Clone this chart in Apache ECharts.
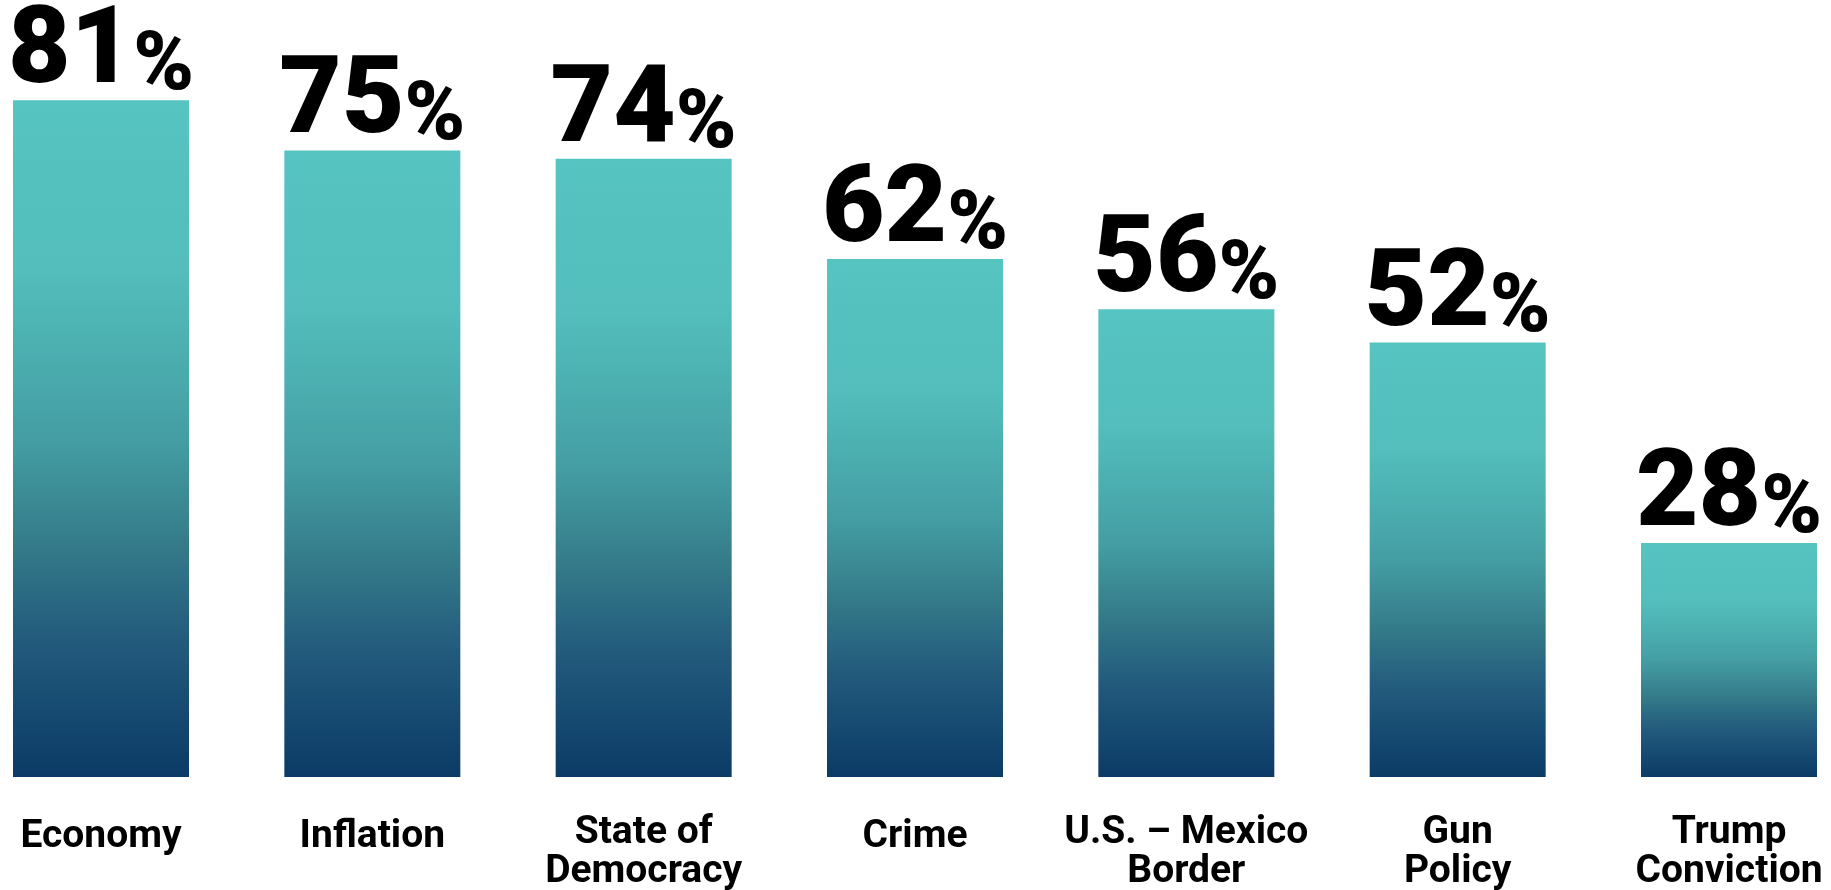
<!DOCTYPE html>
<html>
<head>
<meta charset="utf-8">
<script src="https://cdn.jsdelivr.net/npm/echarts@6/dist/echarts.min.js"></script>
<style>
  html, body { margin: 0; padding: 0; background: #ffffff; }
  #chart { width: 1831px; height: 890px; }
</style>
</head>
<body>
<div id="chart"></div>
<script>
const categories = ['Economy', 'Inflation', 'State of\nDemocracy', 'Crime', 'U.S. – Mexico\nBorder', 'Gun\nPolicy', 'Trump\nConviction'];
const values = [81, 75, 74, 62, 56, 52, 28];

const chart = echarts.init(document.getElementById('chart'), null, { renderer: 'canvas' });

const barGradient = new echarts.graphic.LinearGradient(0, 0, 0, 1, [
  { offset: 0, color: '#56c4c1' },
  { offset: 0.25, color: '#53bebc' },
  { offset: 0.5, color: '#449ea3' },
  { offset: 0.65, color: '#357c8a' },
  { offset: 0.8, color: '#225a7c' },
  { offset: 1, color: '#0b3b66' }
]);

chart.setOption({
  backgroundColor: '#ffffff',
  animation: false,
  grid: { left: 101, right: 102, top: 0, bottom: 113, containLabel: false, outerBoundsMode: 'none' },
  xAxis: {
    type: 'category',
    data: categories,
    boundaryGap: false,
    axisLine: { show: false },
    axisTick: { show: false },
    splitLine: { show: false },
    axisLabel: {
      interval: 0,
      margin: 37,
      color: '#000000',
      fontFamily: 'Roboto',
      fontWeight: 'bold',
      fontSize: 39,
      lineHeight: 39,
      formatter: function (v) {
        return v.indexOf('\n') >= 0 ? v : '{s|' + v + '}';
      },
      rich: {
        s: {
          fontFamily: 'Roboto',
          fontWeight: 'bold',
          fontSize: 39,
          lineHeight: 39,
          color: '#000000',
          padding: [7, 0, 0, 0]
        }
      }
    }
  },
  yAxis: {
    type: 'value',
    min: 0,
    max: 93,
    show: false,
    splitLine: { show: false }
  },
  series: [{
    type: 'bar',
    data: values,
    barWidth: 176,
    clip: false,
    itemStyle: { color: barGradient },
    label: {
      show: true,
      position: 'top',
      distance: -9,
      formatter: function (p) { return '{n|' + p.value + '}{p|%}'; },
      rich: {
        n: {
          fontFamily: 'Roboto',
          fontWeight: 900,
          fontSize: 108,
          lineHeight: 108,
          color: '#000000',
          verticalAlign: 'bottom'
        },
        p: {
          fontFamily: 'Roboto',
          fontWeight: 900,
          fontSize: 82,
          lineHeight: 94,
          color: '#000000',
          verticalAlign: 'bottom'
        }
      }
    }
  }]
});
</script>
</body>
</html>
